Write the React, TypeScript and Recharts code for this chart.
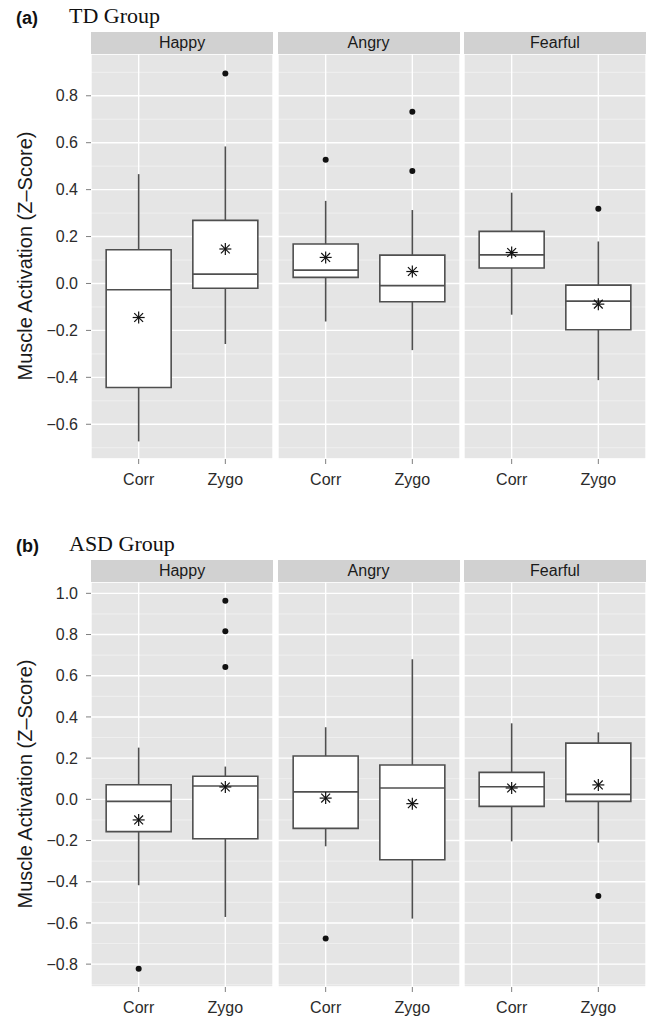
import React from 'react';
import {
  ComposedChart,
  XAxis,
  YAxis,
  CartesianGrid,
  ReferenceArea,
  ReferenceLine,
  Scatter,
} from 'recharts';

const emotions = ['Happy', 'Angry', 'Fearful'];
const muscles = ['Corr', 'Zygo'];

// TD group: one [Corr, Zygo] pair per emotion
const tdWhiskerLow = [[-0.673, -0.258], [-0.162, -0.284], [-0.133, -0.412]];
const tdQ1 = [[-0.443, -0.02], [0.026, -0.078], [0.066, -0.197]];
const tdMedian = [[-0.027, 0.04], [0.057, -0.009], [0.122, -0.075]];
const tdQ3 = [[0.144, 0.269], [0.168, 0.121], [0.222, -0.007]];
const tdWhiskerHigh = [[0.466, 0.584], [0.352, 0.313], [0.387, 0.179]];
const tdMean = [[-0.145, 0.147], [0.111, 0.051], [0.132, -0.088]];
const tdOutliers = [[[], [0.895]], [[0.527], [0.732, 0.479]], [[], [0.318]]];

// ASD group
const asdWhiskerLow = [[-0.417, -0.571], [-0.228, -0.579], [-0.204, -0.21]];
const asdQ1 = [[-0.157, -0.191], [-0.141, -0.293], [-0.034, -0.01]];
const asdMedian = [[-0.01, 0.065], [0.036, 0.055], [0.061, 0.024]];
const asdQ3 = [[0.071, 0.112], [0.21, 0.167], [0.131, 0.273]];
const asdWhiskerHigh = [[0.251, 0.159], [0.35, 0.68], [0.369, 0.325]];
const asdMean = [[-0.1, 0.06], [0.006, -0.021], [0.055, 0.07]];
const asdOutliers = [[[-0.822], [0.964, 0.816, 0.642]], [[-0.675], []], [[], [-0.469]]];

const tdMajorTicks = [-0.6, -0.4, -0.2, 0, 0.2, 0.4, 0.6, 0.8];
const tdMinorTicks = [-0.7, -0.5, -0.3, -0.1, 0.1, 0.3, 0.5, 0.7, 0.9];
const asdMajorTicks = [-0.8, -0.6, -0.4, -0.2, 0, 0.2, 0.4, 0.6, 0.8, 1.0];
const asdMinorTicks = [-0.9, -0.7, -0.5, -0.3, -0.1, 0.1, 0.3, 0.5, 0.7, 0.9];

const groups = [
  {
    tag: '(a)', title: 'TD Group', top: 32, domain: [-0.748, 0.978],
    major: tdMajorTicks, minor: tdMinorTicks,
    wLo: tdWhiskerLow, q1: tdQ1, med: tdMedian, q3: tdQ3, wHi: tdWhiskerHigh,
    mean: tdMean, out: tdOutliers,
  },
  {
    tag: '(b)', title: 'ASD Group', top: 560, domain: [-0.911, 1.055],
    major: asdMajorTicks, minor: asdMinorTicks,
    wLo: asdWhiskerLow, q1: asdQ1, med: asdMedian, q3: asdQ3, wHi: asdWhiskerHigh,
    mean: asdMean, out: asdOutliers,
  },
];

const PANEL_X = [91, 277.5, 464];
const PANEL_W = 182;
const STRIP_H = 21.5;
const PLOT_H = 405;
const HALF_BOX = 0.375;
const BOX_COLOR = '#4f4f4f';
const BOX_STROKE = 1.6;

const fmt = (v: number) => (v < 0 ? '\u2212' : '') + Math.abs(v).toFixed(1);

const Star = (props: any) => {
  const { cx, cy } = props;
  const s = 6;
  const d = 4.4;
  return (
    <g stroke="#111" strokeWidth={1.2}>
      <line x1={cx - s} y1={cy} x2={cx + s} y2={cy} />
      <line x1={cx} y1={cy - s} x2={cx} y2={cy + s} />
      <line x1={cx - d} y1={cy - d} x2={cx + d} y2={cy + d} />
      <line x1={cx - d} y1={cy + d} x2={cx + d} y2={cy - d} />
    </g>
  );
};

const Dot = (props: any) => <circle cx={props.cx} cy={props.cy} r={3} fill="#111" />;

function Facet({ g, e }: { g: any; e: number }) {
  const withAxis = e === 0;
  const plotTop = g.top + STRIP_H;
  const means = muscles.map((m, i) => ({ x: i + 1, y: g.mean[e][i] }));
  const outliers = muscles.flatMap((m, i) => g.out[e][i].map((v: number) => ({ x: i + 1, y: v })));

  return (
    <>
      <div
        style={{
          position: 'absolute', left: PANEL_X[e], top: g.top, width: PANEL_W, height: STRIP_H,
          background: '#d1d1d1', color: '#1a1a1a', fontSize: 16, lineHeight: `${STRIP_H + 1}px`,
          textAlign: 'center',
        }}
      >
        {emotions[e]}
      </div>
      <div style={{ position: 'absolute', left: withAxis ? 0 : PANEL_X[e], top: plotTop }}>
        <ComposedChart
          width={(withAxis ? PANEL_X[0] : 0) + PANEL_W}
          height={PLOT_H + 40}
          margin={{ top: 0, right: 0, bottom: 0, left: 0 }}
        >
          <XAxis
            type="number" dataKey="x" domain={[0.45, 2.55]} ticks={[1, 2]} allowDataOverflow
            interval={0} tickFormatter={(v: number) => muscles[v - 1]} axisLine={false}
            tickLine={{ stroke: '#7f7f7f' }} tickSize={5} tickMargin={10} height={40}
            tick={{ fontSize: 16, fill: '#2b2b2b' }}
          />
          <YAxis yAxisId="minor" type="number" domain={g.domain} ticks={g.minor} allowDataOverflow hide />
          <YAxis
            type="number" dataKey="y" domain={g.domain} ticks={g.major} allowDataOverflow interval={0}
            hide={!withAxis} width={withAxis ? PANEL_X[0] : 0} tickFormatter={fmt} axisLine={false}
            tickLine={{ stroke: '#7f7f7f' }} tickSize={5} tickMargin={8}
            tick={{ fontSize: 16, fill: '#2b2b2b' }}
          />
          <CartesianGrid yAxisId="minor" vertical={false} stroke="#f2f2f2" strokeWidth={0.8} fill="#e5e5e5" fillOpacity={1} />
          <CartesianGrid stroke="#fff" strokeWidth={1.4} />
          {muscles.map((m, i) => (
            <ReferenceArea
              key={`box-${m}`}
              x1={i + 1 - HALF_BOX} x2={i + 1 + HALF_BOX} y1={g.q1[e][i]} y2={g.q3[e][i]}
              fill="#fff" fillOpacity={1} stroke={BOX_COLOR} strokeWidth={BOX_STROKE}
            />
          ))}
          {muscles.map((m, i) => (
            <ReferenceLine
              key={`lo-${m}`}
              segment={[{ x: i + 1, y: g.wLo[e][i] }, { x: i + 1, y: g.q1[e][i] }]}
              stroke={BOX_COLOR} strokeWidth={BOX_STROKE}
            />
          ))}
          {muscles.map((m, i) => (
            <ReferenceLine
              key={`hi-${m}`}
              segment={[{ x: i + 1, y: g.q3[e][i] }, { x: i + 1, y: g.wHi[e][i] }]}
              stroke={BOX_COLOR} strokeWidth={BOX_STROKE}
            />
          ))}
          {muscles.map((m, i) => (
            <ReferenceLine
              key={`med-${m}`}
              segment={[{ x: i + 1 - HALF_BOX, y: g.med[e][i] }, { x: i + 1 + HALF_BOX, y: g.med[e][i] }]}
              stroke={BOX_COLOR} strokeWidth={BOX_STROKE}
            />
          ))}
          <Scatter data={outliers} dataKey="y" shape={Dot} isAnimationActive={false} />
          <Scatter data={means} dataKey="y" shape={Star} isAnimationActive={false} />
        </ComposedChart>
      </div>
    </>
  );
}

export default function App() {
  return (
    <div
      style={{
        position: 'absolute', left: 0, top: 0, width: 650, height: 1019, background: '#fff',
        fontFamily: '"Liberation Sans", Arial, sans-serif',
      }}
    >
      <svg width={650} height={1019} style={{ position: 'absolute', left: 0, top: 0 }}>
        {groups.map((g) => {
          const plotTop = g.top + STRIP_H;
          return (
            <g key={g.tag}>
              <text x={16} y={g.top - 8} fontSize={18} fontWeight="bold" fill="#111">{g.tag}</text>
              <text x={69} y={g.top - 8.7} fontSize={22} fill="#111" fontFamily='"Liberation Serif", "Times New Roman", serif'>
                {g.title}
              </text>
              <text
                transform={`translate(25, ${plotTop + PLOT_H / 2}) rotate(-90)`}
                textAnchor="middle" dy="0.35em" fontSize={20} fill="#1a1a1a"
              >
                Muscle Activation (Z–Score)
              </text>
            </g>
          );
        })}
      </svg>
      {groups.map((g) => emotions.map((em, e) => <Facet key={`${g.tag}-${em}`} g={g} e={e} />))}
    </div>
  );
}
